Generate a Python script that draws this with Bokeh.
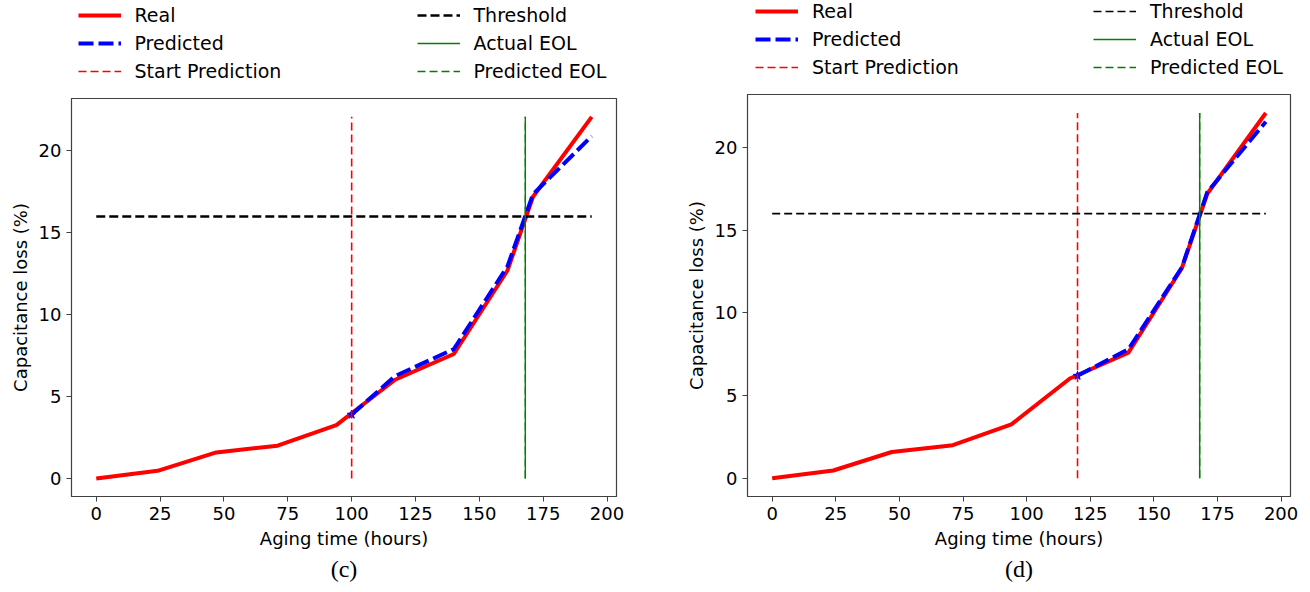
from bokeh.plotting import figure
from bokeh.models import Legend, LegendItem, Title, FixedTicker, Range1d
from bokeh.layouts import row, column
from bokeh.embed import file_html
from bokeh.resources import INLINE

# ---------------- data ----------------
time_h = [0, 24, 47, 71, 94, 117, 140, 161, 171, 194]
real_loss = [0.0, 0.47, 1.59, 2.0, 3.26, 6.03, 7.6, 12.7, 17.2, 22.08]

pred_time_c = [100, 117, 140, 161, 171, 194]
pred_loss_c = [3.9, 6.25, 7.9, 12.95, 17.35, 20.9]
start_c = 100
pred_eol_c = 168

pred_time_d = [120, 140, 161, 171, 194]
pred_loss_d = [6.2, 7.8, 12.75, 17.3, 21.55]
start_d = 120
pred_eol_d = 168

threshold = 16
actual_eol = 168

x_ticks = [0, 25, 50, 75, 100, 125, 150, 175, 200]
y_ticks = [0, 5, 10, 15, 20]
captions = ["(c)", "(d)"]
legend_labels = ["Real", "Predicted", "Start Prediction",
                 "Threshold", "Actual EOL", "Predicted EOL"]

FONT = "DejaVu Sans"

RED = "#ff0000"
BLUE = "#0000ff"
GREEN = "#008000"


def styles_for(thr_w, thr_dash):
    return [
        dict(line_color=RED, line_width=4),
        dict(line_color=BLUE, line_width=4, line_dash="15 5"),
        dict(line_color=RED, line_width=1.6, line_dash="8 4"),
        dict(line_color="black", line_width=thr_w, line_dash=thr_dash),
        dict(line_color=GREEN, line_width=1.4),
        dict(line_color=GREEN, line_width=1.4, line_dash="8 4"),
    ]


def make_legend_fig(width, height, leg_x, leg_vy, lab_w, thr_w, thr_dash):
    lf = figure(width=width, height=height, output_backend="svg",
                toolbar_location=None, min_border=0,
                x_axis_type=None, y_axis_type=None,
                x_range=Range1d(0, 1), y_range=Range1d(0, 1))
    lf.outline_line_color = None
    lf.xgrid.visible = False
    lf.ygrid.visible = False
    rends = []
    for st in styles_for(thr_w, thr_dash):
        # legend-only handles, placed outside the visible range
        rends.append(lf.line([5, 6], [5, 6], **st))
    lg = Legend(items=[LegendItem(label=l, renderers=[r]) for l, r in zip(legend_labels, rends)],
                location=(leg_x, leg_vy), orientation="vertical", nrows=3,
                glyph_width=43, glyph_height=22, label_height=22,
                label_width=lab_w, label_standoff=14, spacing=6,
                padding=0, margin=0,
                border_line_color=None, background_fill_alpha=0,
                label_text_font=FONT, label_text_font_size="19px",
                label_text_color="black")
    lf.add_layout(lg, "center")
    return lf


def make_panel(pred_t, pred_y, start, pred_eol, caption, thr_w, thr_dash,
               bl, br, bt, bb, fw, fh):
    p = figure(frame_width=fw, frame_height=fh, output_backend="svg",
               toolbar_location=None, min_border_left=bl, min_border_right=br,
               min_border_top=bt, min_border_bottom=bb,
               x_range=Range1d(-9.7, 203.7), y_range=Range1d(-1.1, 23.2))
    p.xgrid.visible = False
    p.ygrid.visible = False
    p.outline_line_color = "#404040"
    p.outline_line_width = 1.2

    st = styles_for(thr_w, thr_dash)
    top = max(real_loss)
    p.line(time_h, real_loss, **st[0])
    p.line(pred_t, pred_y, **st[1])
    p.scatter([pred_t[0]], [pred_y[0]], marker="star", size=9,
              fill_color=BLUE, line_color=BLUE)
    p.line([start, start], [0, top], **st[2])
    p.line([min(time_h), max(time_h)], [threshold, threshold], **st[3])
    p.line([pred_eol, pred_eol], [0, top], **st[5])
    p.line([actual_eol, actual_eol], [0, top], **st[4])

    for ax in (p.xaxis[0], p.yaxis[0]):
        ax.major_tick_in = 0
        ax.major_tick_out = 5
        ax.minor_tick_line_color = None
        ax.major_tick_line_color = "#404040"
        ax.axis_line_color = "#404040"
        ax.major_label_text_font = FONT
        ax.major_label_text_font_size = "18px"
        ax.major_label_text_color = "black"
        ax.axis_label_text_font = FONT
        ax.axis_label_text_font_size = "18px"
        ax.axis_label_text_font_style = "normal"
        ax.axis_label_text_color = "black"
    p.xaxis.ticker = FixedTicker(ticks=x_ticks)
    p.yaxis.ticker = FixedTicker(ticks=y_ticks)
    p.xaxis.axis_label = "Aging time (hours)"
    p.yaxis.axis_label = "Capacitance loss (%)"
    p.xaxis.major_label_standoff = 5
    p.xaxis.axis_label_standoff = 5
    p.yaxis.major_label_standoff = 5
    p.yaxis.axis_label_standoff = 5

    t = Title(text=caption, align="center", text_font="Liberation Serif",
              text_font_size="24px", text_font_style="normal",
              text_color="black", standoff=5)
    p.add_layout(t, "below")
    return p


BL1, BR1, BL2, BR2 = 71, 66, 63, 14
W1 = BL1 + 545 + BR1
W2 = BL2 + 543 + BR2
LH = 84

lf1 = make_legend_fig(W1, LH, 6.5, 2, 276, 2.6, "9 4")
lf2 = make_legend_fig(W2, LH, 8, 6, 275, 1.6, "8 4")
p1 = make_panel(pred_time_c, pred_loss_c, start_c, pred_eol_c, captions[0],
                2.6, "9 4", BL1, BR1, 14, 94, 545, 398)
p2 = make_panel(pred_time_d, pred_loss_d, start_d, pred_eol_d, captions[1],
                1.6, "8 4", BL2, BR2, 10, 94, 543, 402)

layout = row(column(lf1, p1), column(lf2, p2))
open("out.html", "w").write(file_html(layout, INLINE))
